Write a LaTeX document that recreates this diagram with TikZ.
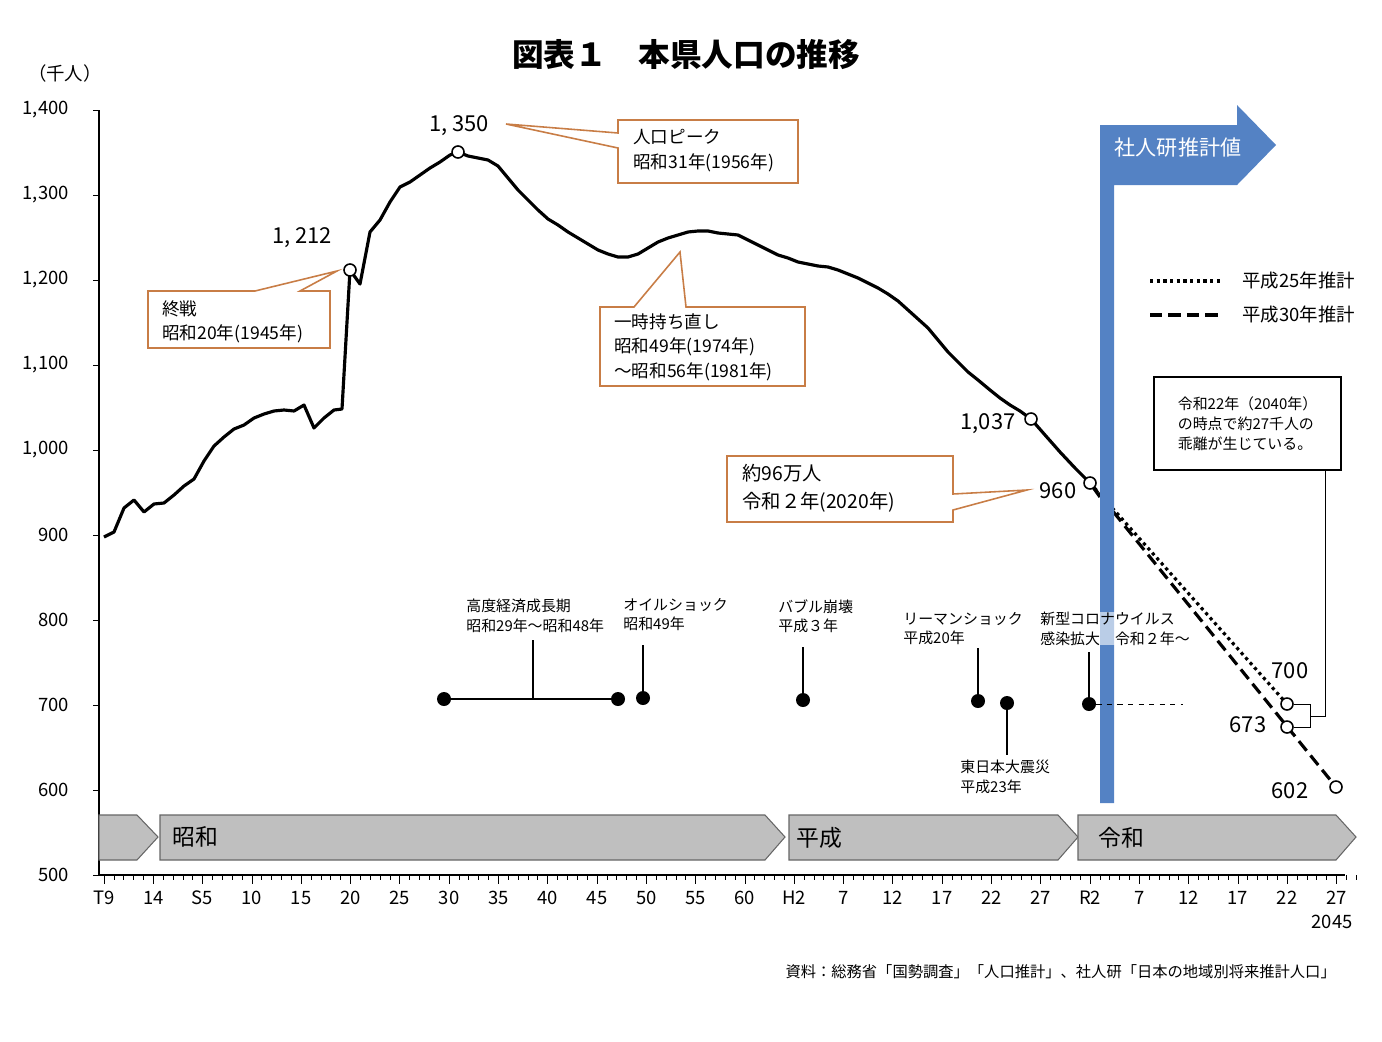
\documentclass[tikz,border=0pt]{standalone}
\usepackage{fontspec}
\setmainfont{Noto Sans CJK JP}
\definecolor{callout}{RGB}{200,125,70}
\definecolor{barblue}{RGB}{84,130,196}
\definecolor{eragray}{RGB}{191,191,191}
\tikzset{
  pmark/.style={circle,draw,fill=white,line width=0.9pt,inner sep=0pt,minimum size=12*0.02cm},
  dot/.style={circle,fill=black,inner sep=0pt,minimum size=14*0.02cm},
  value/.style={font=\fontsize{12.5}{12}\selectfont},
  tick/.style={font=\fontsize{10.5}{10}\selectfont},
  event/.style={font=\fontsize{8.5}{11}\selectfont,align=left,anchor=north west,inner sep=0pt},
  note/.style={font=\fontsize{10}{14}\selectfont,align=left,anchor=north west,inner sep=0pt},
  era/.style={fill=eragray,draw=black!60,line width=0.6pt},
  box/.style={draw=callout,line width=0.9pt,fill=white}
}
\begin{document}
\begin{tikzpicture}[x=0.02cm,y=-0.02cm]
  \useasboundingbox (0,0) rectangle (1382,1041);
  % title
  \node[font=\fontsize{18}{18}\selectfont\bfseries] (title) at (686,55) {図表１　本県人口の推移};
  \node[tick] (unit) at (65,73) {（千人）};
  % axes
  \draw[line width=0.8pt] (99,110) -- (99,875) -- (1345,875);
  \foreach \v [count=\i from 0] in {500,600,700,800,900,{1,000},{1,100},{1,200},{1,300},{1,400}} {
    \draw (93,875-85*\i) -- (99,875-85*\i);
    \node[tick,anchor=east] (y\i) at (75,875-85*\i) {\v};
  }
  \foreach \k in {0,...,127} \draw (104+9.86*\k,875) -- (104+9.86*\k,880);
  \foreach \t [count=\i from 0] in {T9,14,S5,10,15,20,25,30,35,40,45,50,55,60,H2,7,12,17,22,27,R2,7,12,17,22,27} {
    \draw (104+49.3*\i,875) -- (104+49.3*\i,884);
    \node[tick] (x\i) at (104+49.3*\i,898) {\t};
  }
  \node[tick] (y2045) at (1332,922) {2045};
  % eras
  \draw[era] (99,815) -- (137,815) -- (158,837) -- (137,860) -- (99,860) -- cycle;
  \draw[era] (160,815) -- (765,815) -- (785,837) -- (765,860) -- (160,860) -- cycle;
  \draw[era] (789,815) -- (1058,815) -- (1078,837) -- (1058,860) -- (789,860) -- cycle;
  \draw[era] (1078,815) -- (1336,815) -- (1356,837) -- (1336,860) -- (1078,860) -- cycle;
  \node[font=\fontsize{13}{13}\selectfont,anchor=west] (showa) at (166,837) {昭和};
  \node[font=\fontsize{13}{13}\selectfont,anchor=west] (heisei) at (790,838) {平成};
  \node[font=\fontsize{13}{13}\selectfont,anchor=west] (reiwa) at (1092,838) {令和};
  % projections
  \draw[line width=1.8pt,dotted] (1090,483) -- (1287,704);
  \draw[line width=1.8pt,dash pattern=on 7pt off 3.5pt] (1090,483) -- (1336,787);
  % population
  \draw[line width=1.8pt,line join=round] plot coordinates {
    (104,537) (114,532) (124,508) (134,500) (144,512) (154,504) (164,503) (174,495)
    (184,486) (194,479) (204,461) (214,446) (224,437) (234,429) (244,425) (254,418)
    (264,414) (274,411) (284,410) (294,411) (304,405) (314,428) (324,418) (334,410)
    (342,409) (350,270) (360,284) (370,232) (380,220) (390,202) (400,187) (410,182)
    (420,175) (430,168) (440,162) (450,155) (458,152) (468,156) (478,158) (488,160)
    (498,166) (508,178) (518,190) (528,200) (538,210) (548,219) (558,225) (568,232)
    (578,238) (588,244) (598,250) (608,254) (618,257) (628,257) (638,254) (648,248)
    (658,242) (668,238) (678,235) (688,232) (698,231) (708,231) (718,233) (728,234)
    (738,235) (748,240) (758,245) (768,250) (778,255) (788,258) (798,262) (808,264)
    (818,266) (828,267) (838,270) (848,274) (858,278) (868,283) (878,288) (888,294)
    (898,301) (908,310) (918,319) (928,328) (938,340) (948,352) (958,362) (968,372)
    (978,380) (990,390) (1000,398) (1010,405) (1020,411) (1031,419) (1045,435)
    (1060,452) (1075,468) (1090,483) (1100,497)};
  % bar and arrow
  \fill[barblue] (1100,803) -- (1100,125) -- (1237,125) -- (1237,105) -- (1276,145)
    -- (1237,185) -- (1237,185) -- (1114,185) -- (1114,803) -- cycle;
  \node[font=\fontsize{12}{12}\selectfont,text=white] (proj) at (1178,148) {社人研推計値};
  % markers
  \node[pmark] (m1945) at (350,270) {};
  \node[pmark] (m1956) at (458,152) {};
  \node[pmark] (m2015) at (1031,419) {};
  \node[pmark] (m2020) at (1090,483) {};
  \node[pmark] (m25) at (1287,704) {};
  \node[pmark] (m30) at (1287,727) {};
  \node[pmark] (m2045) at (1336,787) {};
  \node[value] (v1212) at (302,238) {1, 212};
  \node[value] (v1350) at (459,126) {1, 350};
  \node[value] (v1037) at (988,424) {1,037};
  \node[value] (v960) at (1058,491) {960};
  \node[value] (v700) at (1290,671) {700};
  \node[value] (v673) at (1248,725) {673};
  \node[value] (v602) at (1290,791) {602};
  % callouts
  \draw[box] (148,291) -- (255,291) -- (337,271) -- (300,291) -- (330,291) -- (330,348) -- (148,348) -- cycle;
  \node[note] (c1) at (162,300) {終戦\\昭和20年(1945年)};
  \draw[box] (618,120) -- (798,120) -- (798,183) -- (618,183) -- (618,148) -- (506,124) -- (618,133) -- cycle;
  \node[note] (c2) at (633,129) {人口ピーク\\昭和31年(1956年)};
  \draw[box] (600,307) -- (634,307) -- (680,252) -- (686,307) -- (805,307) -- (805,386) -- (600,386) -- cycle;
  \node[note] (c3) at (614,313) {一時持ち直し\\昭和49年(1974年)\\～昭和56年(1981年)};
  \draw[box] (727,456) -- (953,456) -- (953,494) -- (1027,490) -- (953,510) -- (953,522) -- (727,522) -- cycle;
  \node[note,font=\fontsize{11}{16}\selectfont] (c4) at (742,464) {約96万人\\令和２年(2020年)};
  % legend
  \draw[line width=1.8pt,dotted] (1150,281) -- (1220,281);
  \draw[line width=1.8pt,dash pattern=on 7pt off 3.5pt] (1150,315) -- (1220,315);
  \node[tick,anchor=west] (l25) at (1236,281) {平成25年推計};
  \node[tick,anchor=west] (l30) at (1236,315) {平成30年推計};
  % gap note
  \node[draw,line width=0.8pt,minimum width=187*0.02cm,minimum height=93*0.02cm,
    font=\fontsize{8.5}{11.5}\selectfont,align=left] (gap) at (1247.5,423.5)
    {令和22年（2040年）\\の時点で約27千人の\\乖離が生じている。};
  \draw (m25.east) -- (1310,704) -- (1310,727) -- (m30.east);
  \draw (1310,716) -- (1325,716) -- (1325,470);
  % events
  \node[dot] (e1) at (444,699) {};
  \node[dot] (e2) at (618,699) {};
  \node[dot] (e3) at (643,698) {};
  \node[dot] (e4) at (803,700) {};
  \node[dot] (e5) at (978,701) {};
  \node[dot] (e6) at (1007,703) {};
  \node[dot] (e7) at (1089,704) {};
  \draw[line width=0.8pt] (e1) -- (e2);
  \draw[line width=0.8pt] (533,699) -- (533,640);
  \draw[line width=0.8pt] (e3) -- (643,645);
  \draw[line width=0.8pt] (e4) -- (803,647);
  \draw[line width=0.8pt] (e5) -- (978,648);
  \draw[line width=0.8pt] (e6) -- (1007,755);
  \draw[line width=0.8pt] (e7) -- (1089,652);
  \draw[dashed] (e7) -- (1183,704);
  \node[event] (t1) at (466,599) {高度経済成長期\\昭和29年～昭和48年};
  \node[event] (t2) at (623,598) {オイルショック\\昭和49年};
  \node[event] (t3) at (778,599) {バブル崩壊\\平成３年};
  \node[event] (t4) at (903,612) {リーマンショック\\平成20年};
  \node[event] (t5) at (960,760) {東日本大震災\\平成23年};
  \node[event,fill=white,fill opacity=0.6,text opacity=1] (t6) at (1040,612) {新型コロナウイルス\\感染拡大　令和２年～};
  % source
  \node[font=\fontsize{8.7}{8}\selectfont,anchor=east] (src) at (1342,972)
    {資料：総務省「国勢調査」「人口推計」、社人研「日本の地域別将来推計人口」};
\end{tikzpicture}
\end{document}
